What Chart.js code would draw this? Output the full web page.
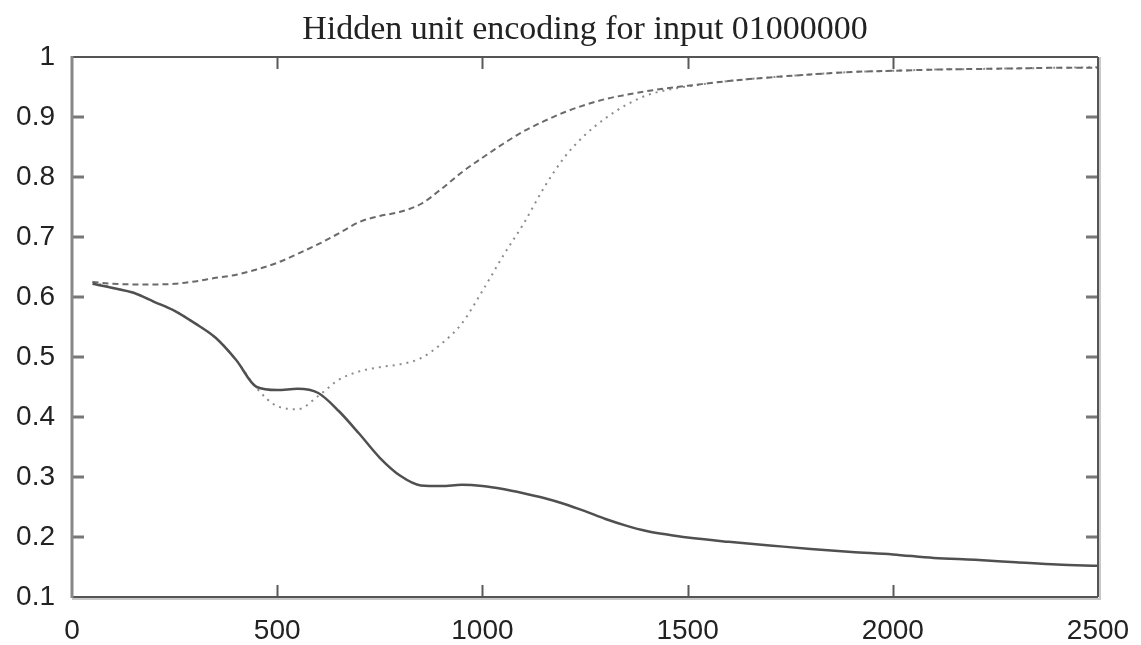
<!DOCTYPE html>
<html>
<head>
<meta charset="utf-8">
<script src="https://cdn.jsdelivr.net/npm/chart.js@4.4.1/dist/chart.umd.min.js"></script>
<style>
    html, body { margin: 0; padding: 0; background: #fff; }
    canvas { display: block; }
</style>
</head>
<body>
<canvas id="chart" width="1141" height="645"></canvas>
<script>
// training steps (x)
const steps = [50, 100, 150, 200, 250, 300, 350, 400, 450, 500,
    550, 600, 650, 700, 750, 800, 850, 900, 950, 1000,
    1050, 1100, 1150, 1200, 1250, 1300, 1350, 1400, 1450, 1500,
    1600, 1700, 1800, 1900, 2000, 2100, 2200, 2300, 2400, 2500];

// hidden unit activations
const unitSolid = [0.622, 0.615, 0.607, 0.592, 0.577, 0.556, 0.532, 0.495, 0.450, 0.445,
    0.447, 0.440, 0.410, 0.372, 0.332, 0.302, 0.286, 0.285, 0.287, 0.285,
    0.280, 0.273, 0.265, 0.255, 0.243, 0.230, 0.219, 0.210, 0.204, 0.199,
    0.192, 0.186, 0.180, 0.175, 0.171, 0.165, 0.162, 0.158, 0.154, 0.152];

const unitDashed = [0.625, 0.622, 0.621, 0.621, 0.622, 0.626, 0.632, 0.637, 0.646, 0.657,
    0.672, 0.688, 0.706, 0.725, 0.735, 0.742, 0.755, 0.780, 0.808, 0.832,
    0.855, 0.876, 0.893, 0.908, 0.920, 0.930, 0.937, 0.943, 0.948, 0.952,
    0.960, 0.966, 0.971, 0.975, 0.977, 0.979, 0.980, 0.981, 0.982, 0.982];

const unitDotted = [0.625, 0.615, 0.607, 0.592, 0.577, 0.556, 0.532, 0.495, 0.448, 0.418,
    0.413, 0.435, 0.462, 0.476, 0.483, 0.488, 0.498, 0.522, 0.556, 0.610,
    0.668, 0.722, 0.782, 0.833, 0.870, 0.898, 0.920, 0.936, 0.945, 0.951,
    0.960, 0.966, 0.971, 0.975, 0.977, 0.979, 0.980, 0.981, 0.982, 0.983];

const xTicks = [0, 500, 1000, 1500, 2000, 2500];
const yTicks = [0.1, 0.2, 0.3, 0.4, 0.5, 0.6, 0.7, 0.8, 0.9, 1];

const toPoints = (ys) => ys.map((y, i) => ({ x: steps[i], y: y }));

// box around the plot with ticks pointing inwards, gnuplot style
const frame = {
    id: 'frame',
    afterDraw(chart) {
        const ctx = chart.ctx;
        const a = chart.chartArea;
        const xs = chart.scales.x;
        const ys = chart.scales.y;
        const len = 12;
        ctx.save();
        ctx.lineCap = 'butt';

        ctx.strokeStyle = '#5a5a5a';
        ctx.lineWidth = 2;
        xTicks.slice(1, -1).forEach(v => {
            const px = Math.round(xs.getPixelForValue(v)) + 0.5;
            ctx.beginPath();
            ctx.moveTo(px, a.bottom); ctx.lineTo(px, a.bottom - len);
            ctx.moveTo(px, a.top); ctx.lineTo(px, a.top + len);
            ctx.stroke();
        });
        ctx.strokeStyle = '#777';
        ctx.lineWidth = 3;
        yTicks.slice(1, -1).forEach(v => {
            const py = Math.round(ys.getPixelForValue(v));
            ctx.beginPath();
            ctx.moveTo(a.left, py); ctx.lineTo(a.left + len, py);
            ctx.moveTo(a.right, py); ctx.lineTo(a.right - len, py);
            ctx.stroke();
        });

        // light shadow lines
        ctx.strokeStyle = '#c8c8c8';
        ctx.lineWidth = 2;
        ctx.beginPath();
        ctx.moveTo(a.left, a.bottom + 2); ctx.lineTo(a.right + 3, a.bottom + 2);
        ctx.moveTo(a.right + 2, a.top); ctx.lineTo(a.right + 2, a.bottom + 3);
        ctx.stroke();

        ctx.strokeStyle = '#555';
        ctx.lineWidth = 2;
        ctx.beginPath();
        ctx.moveTo(a.left, a.top); ctx.lineTo(a.right, a.top);
        ctx.moveTo(a.right, a.top); ctx.lineTo(a.right, a.bottom);
        ctx.moveTo(a.left, a.bottom); ctx.lineTo(a.right, a.bottom);
        ctx.stroke();

        ctx.strokeStyle = '#888';
        ctx.lineWidth = 3;
        ctx.beginPath();
        ctx.moveTo(a.left, a.top - 1); ctx.lineTo(a.left, a.bottom + 1);
        ctx.stroke();
        ctx.restore();
    }
};

const ctx = document.getElementById('chart').getContext('2d');
new Chart(ctx, {
    type: 'line',
    data: {
        datasets: [{
            data: toPoints(unitSolid),
            borderColor: '#505050',
            borderWidth: 2.5
        }, {
            data: toPoints(unitDashed),
            borderColor: '#6a6a6a',
            borderWidth: 2,
            borderDash: [6, 4]
        }, {
            data: toPoints(unitDotted),
            borderColor: '#8c8c8c',
            borderWidth: 2,
            borderDash: [2, 5]
        }]
    },
    options: {
        responsive: false,
        animation: false,
        devicePixelRatio: 1,
        layout: { padding: { left: 0, right: 43, top: 0, bottom: 0 } },
        elements: {
            point: { radius: 0 },
            line: { cubicInterpolationMode: 'monotone', fill: false }
        },
        scales: {
            x: {
                type: 'linear',
                min: 0,
                max: 2500,
                afterFit: (scale) => {
                    scale.height = 48;
                    scale.paddingLeft = 0;
                    scale.paddingRight = 0;
                },
                afterBuildTicks: (scale) => { scale.ticks = xTicks.map(v => ({ value: v })); },
                grid: { display: false, drawTicks: false },
                border: { display: false },
                ticks: {
                    maxRotation: 0,
                    padding: 17,
                    color: '#222',
                    font: { family: 'Liberation Sans', size: 28 },
                    callback: (v) => String(v)
                }
            },
            y: {
                min: 0.1,
                max: 1,
                afterFit: (scale) => {
                    scale.width = 72;
                    scale.paddingTop = 0;
                    scale.paddingBottom = 0;
                },
                afterBuildTicks: (scale) => { scale.ticks = yTicks.map(v => ({ value: v })); },
                grid: { display: false, drawTicks: false },
                border: { display: false },
                ticks: {
                    padding: 17,
                    color: '#222',
                    font: { family: 'Liberation Sans', size: 28 },
                    callback: (v) => (Math.abs(v - 1) < 1e-9 ? '1' : v.toFixed(1))
                }
            }
        },
        plugins: {
            legend: { display: false },
            tooltip: { enabled: false },
            title: {
                display: true,
                fullSize: false,
                text: 'Hidden unit encoding for input 01000000',
                color: '#222',
                font: { family: 'Liberation Serif', size: 34, weight: 'normal' },
                padding: { top: 10, bottom: 6.2 }
            }
        }
    },
    plugins: [frame]
});
</script>
</body>
</html>
